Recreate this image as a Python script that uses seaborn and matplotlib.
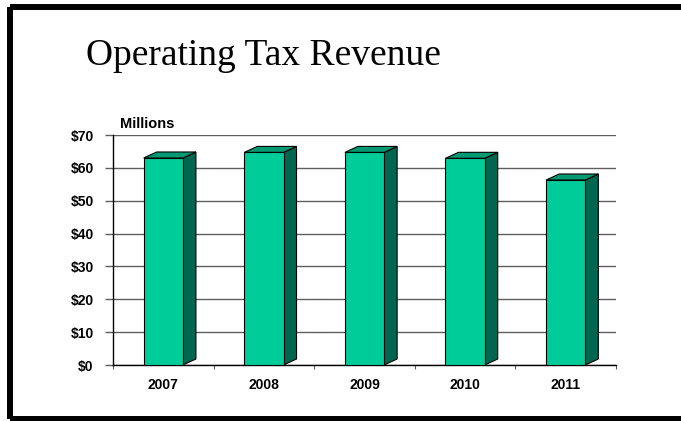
import matplotlib
matplotlib.use("Agg")
import matplotlib.pyplot as plt
from matplotlib.patches import Polygon
from matplotlib.lines import Line2D
import seaborn as sns
import pandas as pd

# Operating tax revenue by year, in millions of dollars
years = ["2007", "2008", "2009", "2010", "2011"]
revenue = [63.0, 64.7, 64.7, 62.9, 56.3]
y_ticks = [0, 10, 20, 30, 40, 50, 60, 70]
y_tick_labels = ["$0", "$10", "$20", "$30", "$40", "$50", "$60", "$70"]

FRONT = "#00CC99"
SIDE = "#006650"
TOP = "#009A72"
GRID = "#5e5e5e"

sns.set_style("white")
plt.rcParams["font.family"] = ["Liberation Sans", "DejaVu Sans"]
plt.rcParams["text.color"] = "black"
plt.rcParams["xtick.labelcolor"] = "black"
plt.rcParams["ytick.labelcolor"] = "black"

W, H = 681, 421
fig = plt.figure(figsize=((W + 0.01) / 100, (H + 0.01) / 100), dpi=100,
                 facecolor="white")
ax = fig.add_axes([113 / W, (H - 365) / H, 503 / W, 230 / H])

df = pd.DataFrame({"year": years, "revenue": revenue})
bar_w = 0.39
sns.barplot(data=df, x="year", y="revenue", color=FRONT, saturation=1,
            width=bar_w, edgecolor="black", linewidth=0.8, ax=ax, zorder=3)

ax.set_xlim(-0.5, len(years) - 0.5)
ax.set_ylim(0, 70)

# 3-D depth: side and top faces offset up and to the right
px_x = (len(years)) / 503.0
px_y = 70 / 230.0
dx, dy = 13 * px_x, 6 * px_y
for patch in ax.patches[:len(years)]:
    x0 = patch.get_x()
    x1 = x0 + patch.get_width()
    v = patch.get_height()
    side = Polygon([(x1, 0), (x1 + dx, dy), (x1 + dx, v + dy), (x1, v)],
                   closed=True, facecolor=SIDE, edgecolor="black",
                   linewidth=0.8, zorder=2.9)
    top = Polygon([(x0, v), (x0 + dx, v + dy), (x1 + dx, v + dy), (x1, v)],
                  closed=True, facecolor=TOP, edgecolor="black",
                  linewidth=0.8, zorder=2.9)
    ax.add_patch(side)
    ax.add_patch(top)

# Gridlines and axes
ax.set_yticks(y_ticks)
ax.set_yticklabels(y_tick_labels, fontsize=10, fontweight="bold")
ax.grid(axis="y", color=GRID, linewidth=1.0, zorder=0)
ax.set_axisbelow(True)
ax.tick_params(axis="y", length=6, width=1.0, color=GRID, pad=8, left=True,
               labelcolor="black")
ax.tick_params(axis="x", length=0, pad=9, labelsize=10, labelcolor="black")
for lab in ax.get_xticklabels():
    lab.set_fontweight("bold")
ax.set_xticks([i + 0.5 for i in range(-1, len(years))], minor=True)
ax.tick_params(axis="x", which="minor", length=3, width=0.8, color=GRID, bottom=True)

for s in ["top", "right"]:
    ax.spines[s].set_visible(False)
for s in ["left", "bottom"]:
    ax.spines[s].set_color("black")
    ax.spines[s].set_linewidth(1.0)

ax.set_xlabel("")
ax.set_ylabel("")

# Units label above the axis
fig.text(120 / W, 1 - 128 / H, "Millions", fontsize=10.5, fontweight="bold",
         color="black", ha="left", va="baseline")

# Title
fig.text(263 / W, 1 - 65 / H, "Operating Tax Revenue",
         family=["Liberation Serif", "DejaVu Serif"], fontsize=27,
         color="black", ha="center", va="baseline")

# Outer frame: left, top and bottom edges (the right edge runs off the page)
x_l, y_t, y_b = 10 / W, 1 - 7 / H, 1 - 419.5 / H
for xs, ys in [([x_l, x_l], [y_b, y_t]),
               ([x_l, 1.05], [y_t, y_t]),
               ([x_l, 1.05], [y_b, y_b])]:
    fig.add_artist(Line2D(xs, ys, transform=fig.transFigure, color="black",
                          linewidth=4.3, solid_capstyle="butt"))

fig.savefig("out.png", dpi=100, facecolor="white")
